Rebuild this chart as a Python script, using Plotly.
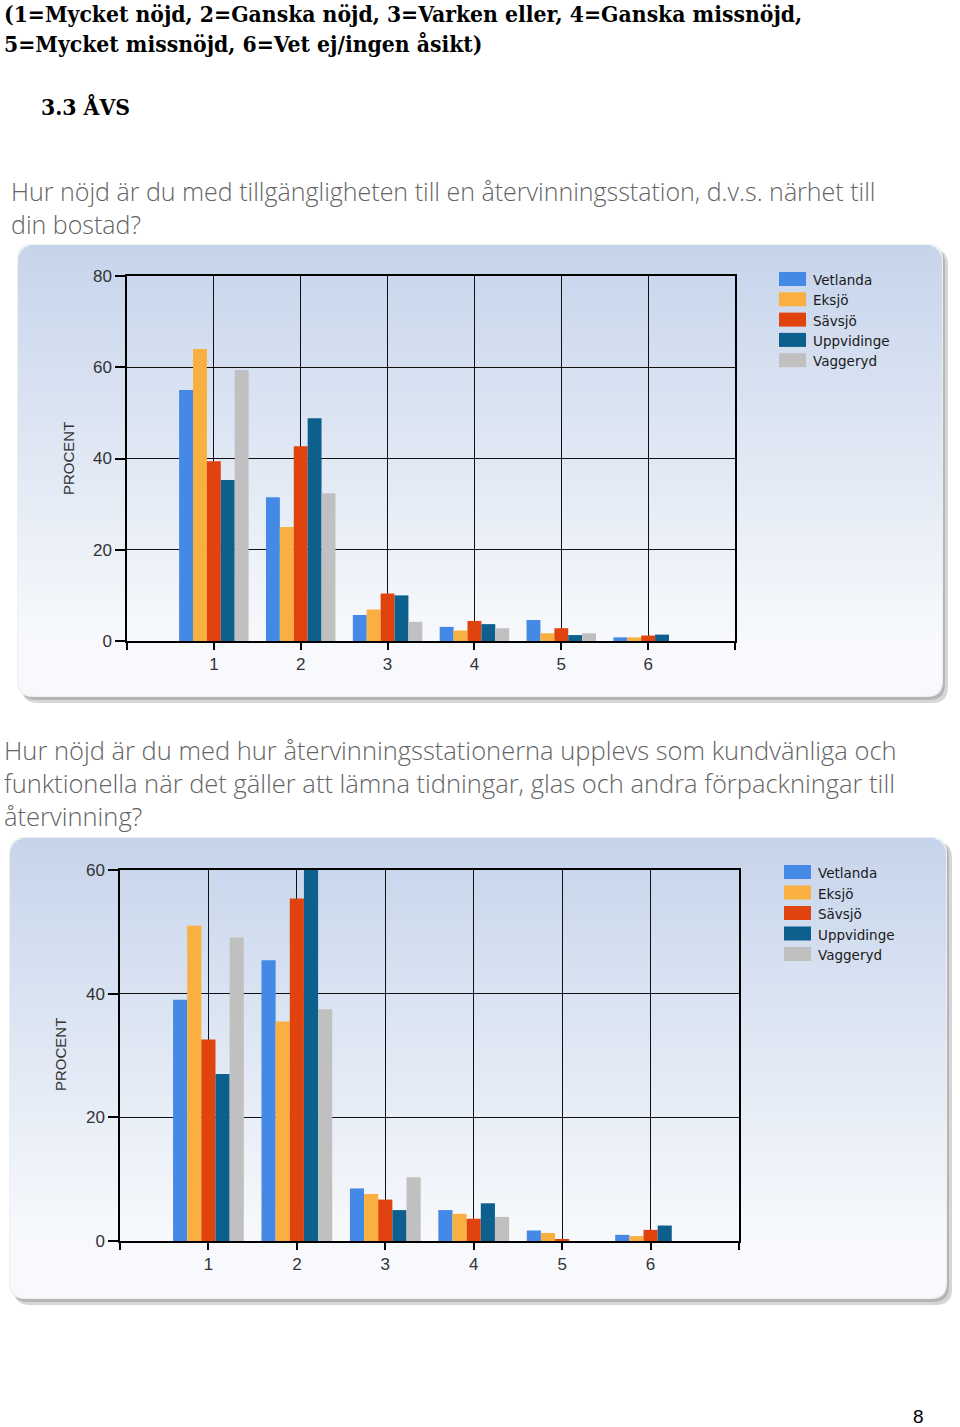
import plotly.graph_objects as go

W, H = 960, 1427


def px(x):
    return x / W


def py(y):
    return 1 - y / H


# ---------------- data ----------------
categories = ["1", "2", "3", "4", "5", "6"]
series_names = ["Vetlanda", "Eksjö", "Sävsjö", "Uppvidinge", "Vaggeryd"]
series_colors = ["#4589e6", "#fab040", "#e0430e", "#0d5f8d", "#c0c0c0"]

q1_vetlanda = [55.0, 31.5, 5.7, 3.1, 4.6, 0.8]
q1_eksjo = [64.0, 25.0, 6.9, 2.3, 1.7, 0.8]
q1_savsjo = [39.4, 42.7, 10.4, 4.4, 2.8, 1.2]
q1_uppvidinge = [35.3, 48.8, 10.0, 3.7, 1.3, 1.4]
q1_vaggeryd = [59.4, 32.4, 4.2, 2.8, 1.7, 0.0]

q2_vetlanda = [39.0, 45.4, 8.5, 5.0, 1.7, 1.0]
q2_eksjo = [51.0, 35.5, 7.6, 4.4, 1.3, 0.8]
q2_savsjo = [32.6, 55.4, 6.7, 3.6, 0.3, 1.8]
q2_uppvidinge = [27.0, 60.0, 5.0, 6.1, 0.0, 2.5]
q2_vaggeryd = [49.1, 37.5, 10.3, 3.9, 0.0, 0.0]

q1_ticks = [0, 20, 40, 60, 80]
q2_ticks = [0, 20, 40, 60]

header_lines = [
    "(1=Mycket nöjd, 2=Ganska nöjd, 3=Varken eller, 4=Ganska missnöjd,",
    "5=Mycket missnöjd, 6=Vet ej/ingen åsikt)",
]
section_title = "3.3 ÅVS"
q1_title = [
    "Hur nöjd är du med tillgängligheten till en återvinningsstation, d.v.s. närhet till",
    "din bostad?",
]
q2_title = [
    "Hur nöjd är du med hur återvinningsstationerna upplevs som kundvänliga och",
    "funktionella när det gäller att lämna tidningar, glas och andra förpackningar till",
    "återvinning?",
]
y_label = "PROCENT"
page_number = "8"

q1_series = [q1_vetlanda, q1_eksjo, q1_savsjo, q1_uppvidinge, q1_vaggeryd]
q2_series = [q2_vetlanda, q2_eksjo, q2_savsjo, q2_uppvidinge, q2_vaggeryd]
xpos = list(range(1, len(categories) + 1))

fig = go.Figure()
for name, color, vals in zip(series_names, series_colors, q1_series):
    fig.add_trace(go.Bar(x=xpos, y=vals, name=name, marker_color=color,
                         marker_line_width=0, xaxis="x", yaxis="y",
                         showlegend=False))
for name, color, vals in zip(series_names, series_colors, q2_series):
    fig.add_trace(go.Bar(x=xpos, y=vals, name=name, marker_color=color,
                         marker_line_width=0, xaxis="x2", yaxis="y2",
                         showlegend=False))

shapes = []
annotations = []


def rrect_path(x0, y0, x1, y1, r):
    pts = [
        f"M{px(x0 + r)},{py(y0)}",
        f"L{px(x1 - r)},{py(y0)}",
        f"Q{px(x1)},{py(y0)} {px(x1)},{py(y0 + r)}",
        f"L{px(x1)},{py(y1 - r)}",
        f"Q{px(x1)},{py(y1)} {px(x1 - r)},{py(y1)}",
        f"L{px(x0 + r)},{py(y1)}",
        f"Q{px(x0)},{py(y1)} {px(x0)},{py(y1 - r)}",
        f"L{px(x0)},{py(y0 + r)}",
        f"Q{px(x0)},{py(y0)} {px(x0 + r)},{py(y0)}",
        "Z",
    ]
    return " ".join(pts)


def panel(x0, y0, x1, y1, r=16):
    shapes.append(dict(type="path", xref="paper", yref="paper", layer="below",
                       path=rrect_path(x0 + 4, y0 + 4, x1 + 6, y1 + 7, r),
                       fillcolor="#d6d6d6", line=dict(width=0)))
    shapes.append(dict(type="path", xref="paper", yref="paper", layer="below",
                       path=rrect_path(x0 + 2, y0 + 2, x1 + 3, y1 + 4, r),
                       fillcolor="#b5b5b5", line=dict(width=0)))
    shapes.append(dict(type="path", xref="paper", yref="paper", layer="below",
                       path=rrect_path(x0 - 1, y0 - 1, x1 + 1, y1 + 1, r),
                       fillcolor="#f0f0f0", line=dict(width=0)))
    top = (198, 212, 235)
    bot = (247, 249, 252)
    step = 2
    y = y0
    total = y1 - y0
    while y < y1:
        yc = y + step / 2
        t = (yc - y0) / total
        t2 = min(1.0, t * 1.15)
        c = tuple(int(round(top[k] + (bot[k] - top[k]) * t2)) for k in range(3))
        inset = 0.0
        if yc < y0 + r:
            d = y0 + r - yc
            inset = r - (r * r - d * d) ** 0.5
        elif yc > y1 - r:
            d = yc - (y1 - r)
            inset = r - (r * r - d * d) ** 0.5
        shapes.append(dict(type="rect", xref="paper", yref="paper", layer="below",
                           x0=px(x0 + inset), x1=px(x1 - inset),
                           y0=py(min(y + step + 0.5, y1)), y1=py(y),
                           fillcolor=f"rgb{c}", line=dict(width=0)))
        y += step


panel(18, 245, 942, 696)
panel(10, 838, 946, 1298)


def text(x, y, s, size, color, family, xanchor="left", weight=None, angle=0):
    f = dict(size=size, color=color, family=family)
    if weight is not None:
        f["weight"] = weight
    annotations.append(dict(x=px(x), y=py(y), xref="paper", yref="paper",
                            text=s, showarrow=False, xanchor=xanchor,
                            yanchor="middle", align="left", font=f,
                            textangle=angle, borderpad=0))


serif = "DejaVu Serif Condensed, DejaVu Serif"
for i, line in enumerate(header_lines):
    text(3, 14 + 30 * i, line, 22.7, "#000000", serif, weight="bold")
text(40, 107, section_title, 22.7, "#000000", serif, weight="bold")

tfont = "Open Sans"
text(10, 207, "<br>".join(q1_title), 25, "#646464", tfont, weight=300)
text(3, 783, "<br>".join(q2_title), 25.5, "#646464", tfont, weight=300)

text(68, 459, y_label, 15, "#333333", "Liberation Sans", xanchor="center", angle=-90)
text(60, 1055, y_label, 15, "#333333", "Liberation Sans", xanchor="center", angle=-90)
text(918, 1416, page_number, 19, "#000000", "Liberation Sans", xanchor="center")


def legend(x_rect, x_text, y_first, dy):
    for i, (name, color) in enumerate(zip(series_names, series_colors)):
        yc = y_first + dy * i
        shapes.append(dict(type="rect", xref="paper", yref="paper",
                           x0=px(x_rect), x1=px(x_rect + 27),
                           y0=py(yc + 7), y1=py(yc - 7),
                           fillcolor=color, line=dict(width=0)))
        text(x_text, yc + 1, name, 13.5, "#1a1a1a", "DejaVu Sans")


legend(779, 812, 279, 20.3)
legend(784, 817, 872, 20.5)

axis_font = dict(family="Liberation Sans", size=17, color="#333333")
tickvals_x = [0] + xpos + [len(categories) + 1]
ticktext_x = [""] + categories + [""]


def xaxis(domain, anchor):
    return dict(domain=domain, anchor=anchor, range=[0, len(categories) + 1],
                tickvals=tickvals_x, ticktext=ticktext_x, ticks="outside",
                ticklen=7, tickcolor="#000", tickwidth=1.5, showgrid=True,
                gridcolor="#111111", gridwidth=1.3, showline=True,
                linecolor="#000", linewidth=1.5, mirror=True, zeroline=False,
                tickfont=axis_font, fixedrange=True, automargin=False)


def yaxis(domain, anchor, ticks):
    return dict(domain=domain, anchor=anchor, range=[0, ticks[-1]],
                tickvals=ticks, ticks="outside", ticklen=10, tickcolor="#000",
                tickwidth=1.5, showgrid=True, gridcolor="#111111", gridwidth=1.3,
                showline=True, linecolor="#000", linewidth=1.5, mirror=True,
                zeroline=False, tickfont=axis_font, fixedrange=True,
                automargin=False)


fig.update_layout(
    width=W, height=H,
    margin=dict(l=0, r=0, t=0, b=0, pad=0),
    paper_bgcolor="#ffffff",
    plot_bgcolor="rgba(0,0,0,0)",
    barmode="group", bargap=0.2, bargroupgap=0.0,
    showlegend=False,
    xaxis=xaxis([px(127), px(735)], "y"),
    yaxis=yaxis([py(641), py(276)], "x", q1_ticks),
    xaxis2=xaxis([px(120), px(739)], "y2"),
    yaxis2=yaxis([py(1241), py(870)], "x2", q2_ticks),
    shapes=shapes,
    annotations=annotations,
)

fig.write_html("out.html",
               config={"displayModeBar": False},
               post_script="document.body.style.margin='0';"
                           "document.body.style.overflow='hidden';")
